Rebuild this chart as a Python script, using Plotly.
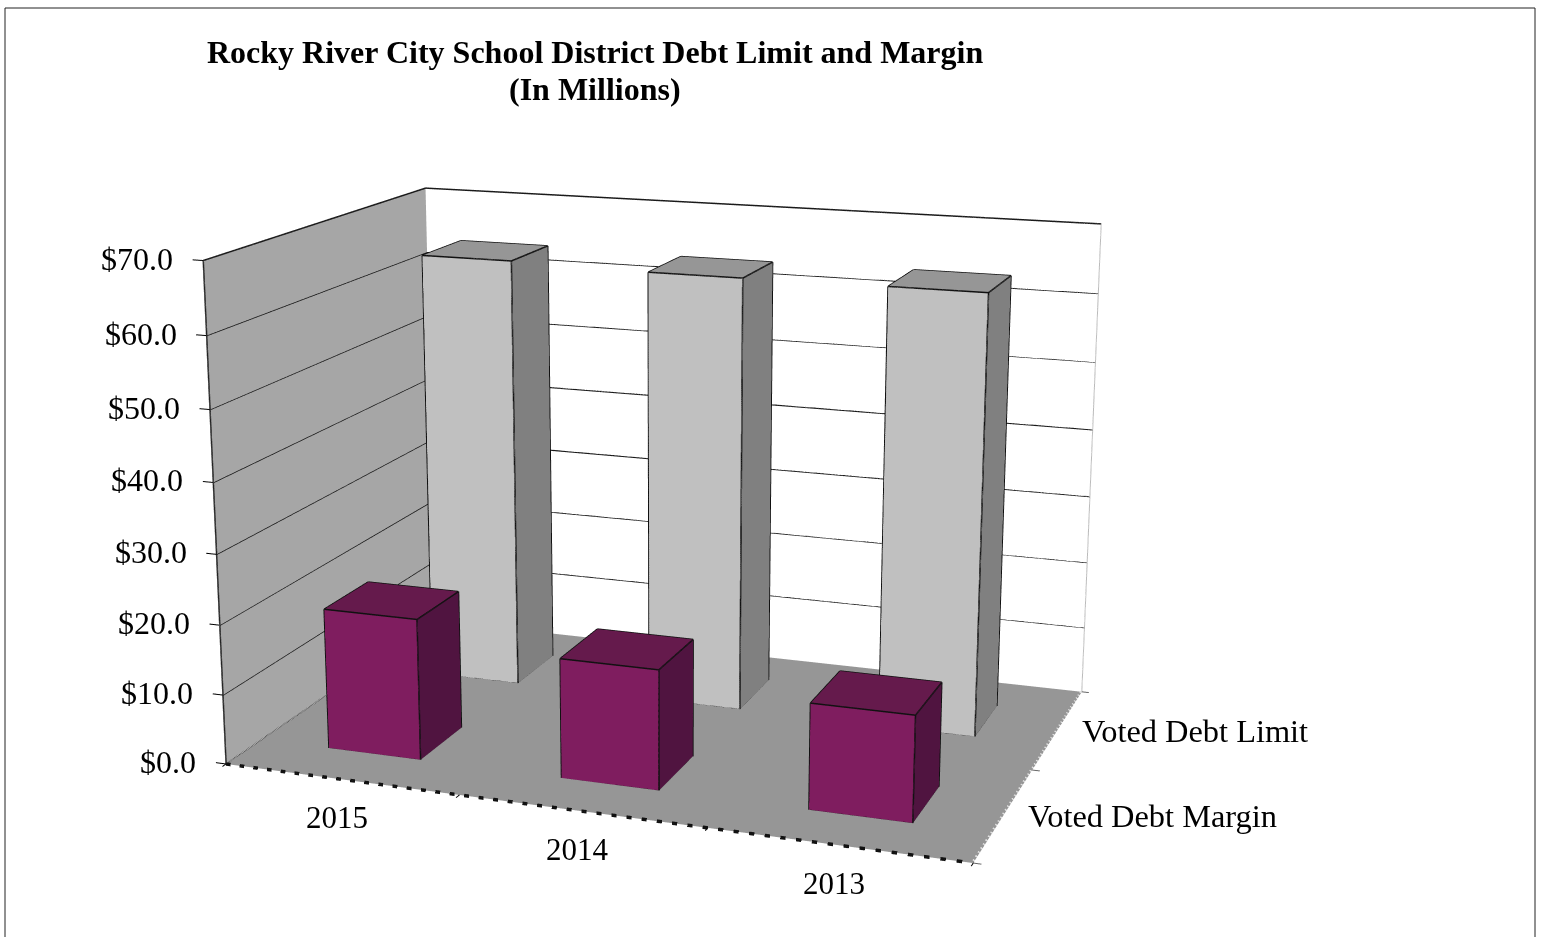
import plotly.graph_objects as go

title_lines = ["Rocky River City School District Debt Limit and Margin", "(In Millions)"]
categories = ["2015", "2014", "2013"]
series_names = ["Voted Debt Margin", "Voted Debt Limit"]
margin_values = [20.3, 17.0, 14.8]
limit_values = [64.0, 63.6, 63.7]
tick_values = [0, 10, 20, 30, 40, 50, 60, 70]
tick_labels = ["$0.0", "$10.0", "$20.0", "$30.0", "$40.0", "$50.0", "$60.0", "$70.0"]
bar_width = 0.4015
bar_depth = 0.3992

XR = (-0.1, 3.1); YR = (-0.1, 2.1); ZR = (-5.0, 75.0)
W, H = 1541, 937
# the scene is larger than the window, so the view has a longer lens and an off-centre axis
HS = 2219
WS = 1778
LEFT = -217
TOP = -611
px = lambda X: (X-LEFT)/WS
py = lambda Y: 1-(Y-TOP)/HS

FLAT = dict(ambient=1, diffuse=0, specular=0, roughness=1, fresnel=0)
fig = go.Figure()

def quads(qs, color):
    xs, ys, zs, i, j, k = [], [], [], [], [], []
    for q in qs:
        n = len(xs)
        for a in q:
            xs.append(a[0]); ys.append(a[1]); zs.append(a[2])
        i += [n, n]; j += [n+1, n+2]; k += [n+2, n+3]
    fig.add_trace(go.Mesh3d(x=xs, y=ys, z=zs, i=i, j=j, k=k, color=color, flatshading=True,
                            lighting=FLAT, hoverinfo="skip", showscale=False))

def lines(segs, color, width, dash="solid"):
    xs, ys, zs = [], [], []
    for a, b in segs:
        xs += [a[0], b[0], None]; ys += [a[1], b[1], None]; zs += [a[2], b[2], None]
    fig.add_trace(go.Scatter3d(x=xs, y=ys, z=zs, mode="lines", line=dict(color=color, width=width, dash=dash),
                               hoverinfo="skip", showlegend=False))

top = tick_values[-1]
nx, ny = len(categories), len(series_names)
quads([[(0, 0, 0), (0, ny, 0), (0, ny, top), (0, 0, top)]], "#A6A6A6")
quads([[(0, ny, 0), (nx, ny, 0), (nx, ny, top), (0, ny, top)]], "#FFFFFF")
quads([[(0, 0, 0), (nx, 0, 0), (nx, ny, 0), (0, ny, 0)]], "#969696")
grid = []
for v in tick_values[1:]:
    grid += [((0, 0, v), (0, ny, v)), ((0, ny, v), (nx, ny, v))]
lines(grid, "#1A1A1A", 3)
lines([((0, 0, 0), (0, 0, top))], "#222222", 3)
lines([((nx, ny, 0), (nx, ny, top))], "#BBBBBB", 2)
lines([((0, 0, v), (-0.045, 0, v)) for v in tick_values], "#000000", 2)
lines([((i, 0, 0), (i, -0.03, 0)) for i in range(nx+1)], "#000000", 2)
lines([((nx, j, 0), (nx+0.03, j, 0)) for j in range(ny+1)], "#666666", 2)
lines([((0, 0, 0), (nx, 0, 0))], "#111111", 7, "dash")
lines([((nx, 0, 0.3), (nx, ny, 0.3))], "#E0E0E0", 4, "dash")
lines([((0.01, 0, 0.3), (0.01, ny, 0.3))], "#444444", 3, "dot")

def bar(xc, yc, v, front, side, topc):
    a, b = xc-bar_width/2, xc+bar_width/2
    c, d = yc-bar_depth/2, yc+bar_depth/2
    quads([[(a, c, 0), (b, c, 0), (b, c, v), (a, c, v)]], front)
    quads([[(b, c, 0), (b, d, 0), (b, d, v), (b, c, v)]], side)
    quads([[(a, c, v), (b, c, v), (b, d, v), (a, d, v)]], topc)
    edges = [((a, c, 0), (b, c, 0)), ((b, c, 0), (b, d, 0)), ((a, c, v), (b, c, v)), ((b, c, v), (b, d, v)),
             ((b, d, v), (a, d, v)), ((a, d, v), (a, c, v)), ((a, c, 0), (a, c, v)), ((b, c, 0), (b, c, v)),
             ((b, d, 0), (b, d, v))]
    lines(edges, "#111111", 3)

for i in range(nx):
    bar(i+0.5, 1.5, limit_values[i], "#C0C0C0", "#808080", "#969696")
for i in range(nx):
    bar(i+0.5, 0.5, margin_values[i], "#7F1D5F", "#501440", "#651A4C")

FONT = "Liberation Serif"
ann = []
for v, t in zip(tick_values, tick_labels):
    ann.append(dict(x=0, y=0, z=v, text=t, showarrow=False, xanchor="right", xshift=-28, yshift=2,
                    font=dict(family=FONT, size=32, color="black")))
for i, cat in enumerate(categories):
    ann.append(dict(x=i+0.5, y=0, z=0, text=cat, showarrow=False, yshift=-38, xshift=-4,
                    font=dict(family=FONT, size=31, color="black")))
for j, nm in enumerate(series_names):
    ann.append(dict(x=nx, y=j+0.5, z=0, text=nm, showarrow=False, xanchor="left", xshift=22, yshift=-1.5,
                    font=dict(family=FONT, size=32.4, color="black")))

fig.update_layout(
    width=WS, height=HS, margin=dict(l=0, r=0, t=0, b=0, pad=0), paper_bgcolor="white", showlegend=False,
    scene=dict(domain=dict(x=[0, 1], y=[0, 1]), aspectmode="manual", aspectratio=dict(x=1.3999, y=0.9562, z=1.0),
               camera=dict(eye=dict(x=1.5157, y=-4.2629, z=1.1854), center=dict(x=0.0225, y=-0.0547, z=0.0),
                           up=dict(x=-0.0016, y=-0.0043, z=1.0)),
               xaxis=dict(visible=False, range=list(XR), autorange=False),
               yaxis=dict(visible=False, range=list(YR), autorange=False),
               zaxis=dict(visible=False, range=list(ZR), autorange=False),
               annotations=ann, bgcolor="rgba(0,0,0,0)"),
    shapes=[dict(type="rect", xref="paper", yref="paper", x0=px(5), x1=px(1535), y0=py(1000), y1=py(8),
                 line=dict(color="#222222", width=1))],
    annotations=[dict(xref="paper", yref="paper", x=px(595), y=py(Y), text="<b>%s</b>" % t, showarrow=False,
                      yanchor="middle", font=dict(family=FONT, size=32, color="black"))
                 for t, Y in zip(title_lines, (52, 89))])
ps = ("var g=document.getElementById('{plot_id}');document.body.style.margin='0';"
      "document.documentElement.style.overflow='hidden';document.body.style.overflow='hidden';"
      "g.style.position='fixed';g.style.left='%dpx';g.style.top='%dpx';" % (LEFT, TOP))
fig.write_html("out.html", config=dict(displayModeBar=False), post_script=ps)
